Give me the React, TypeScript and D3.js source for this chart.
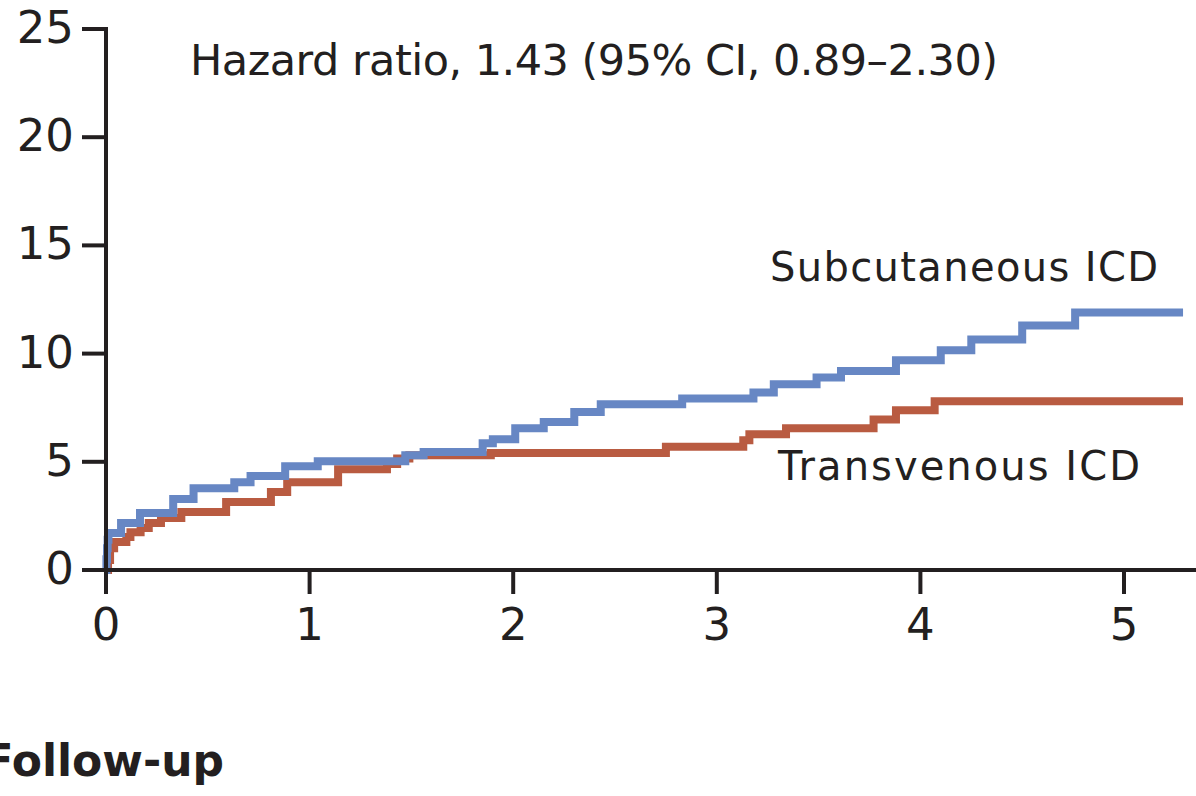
import React from "react";
import * as d3 from "d3";

// Follow-up time (years) and cumulative incidence (%) — step points
const subcutaneousTime = [0, 0.002, 0.005, 0.008, 0.012, 0.074, 0.167, 0.33, 0.43, 0.63, 0.71, 0.88, 1.04, 1.47, 1.56, 1.85, 1.9, 2.01, 2.15, 2.3, 2.43, 2.83, 3.18, 3.28, 3.49, 3.61, 3.88, 4.1, 4.25, 4.5, 4.76, 5.29];
const subcutaneousValue = [0, 0.5, 1.0, 1.4, 1.71, 2.17, 2.63, 3.28, 3.78, 4.06, 4.34, 4.8, 5.03, 5.3, 5.45, 5.86, 6.04, 6.55, 6.84, 7.3, 7.66, 7.93, 8.2, 8.58, 8.9, 9.2, 9.69, 10.15, 10.65, 11.3, 11.9, 11.9];

const transvenousTime = [0, 0.01, 0.02, 0.04, 0.1, 0.12, 0.17, 0.21, 0.27, 0.37, 0.59, 0.81, 0.89, 1.14, 1.38, 1.43, 1.49, 1.89, 2.75, 3.13, 3.16, 3.34, 3.77, 3.88, 4.07, 5.29];
const transvenousValue = [0, 0.46, 1.0, 1.29, 1.52, 1.75, 1.94, 2.17, 2.4, 2.68, 3.14, 3.6, 4.06, 4.66, 4.9, 5.15, 5.3, 5.41, 5.7, 6.0, 6.27, 6.55, 6.96, 7.38, 7.8, 7.8];

const xTickValues = [0, 1, 2, 3, 4, 5];
const yTickValues = [0, 5, 10, 15, 20, 25];

const seriesLabels = ["Subcutaneous ICD", "Transvenous ICD"];
const hazardText = "Hazard ratio, 1.43 (95% CI, 0.89\u20132.30)";
const axisTitle = "Follow-up";

const BLUE = "#6787C4";
const RED = "#B95B41";
const INK = "#231F20";
const FONT = "'DejaVu Sans', sans-serif";

export default function App() {
  const x = d3.scaleLinear().domain([0, 5]).range([106, 1124]);
  const y = d3.scaleLinear().domain([0, 25]).range([570, 29]);

  const line = d3
    .line<[number, number]>()
    .x((d) => x(d[0]))
    .y((d) => y(d[1]))
    .curve(d3.curveStepAfter);

  const blue = subcutaneousTime.map((t, i) => [t, subcutaneousValue[i]] as [number, number]);
  const red = transvenousTime.map((t, i) => [t, transvenousValue[i]] as [number, number]);

  return (
    <svg
      width={1196}
      height={796}
      style={{ position: "absolute", left: 0, top: 0, background: "#fff" }}
      fontFamily={FONT}
    >
      <rect x={0} y={0} width={1196} height={796} fill="#fff" />
      {/* curves */}
      <path d={line(red) || ""} fill="none" stroke={RED} strokeWidth={8} strokeLinejoin="miter" />
      <path d={line(blue) || ""} fill="none" stroke={BLUE} strokeWidth={8} strokeLinejoin="miter" />

      {/* y axis */}
      <line x1={x(0)} x2={x(0)} y1={y(25) - 2} y2={y(0) + 2} stroke={INK} strokeWidth={4} />
      {yTickValues.map((v) => (
        <g key={"y" + v}>
          <line x1={82} x2={x(0)} y1={y(v)} y2={y(v)} stroke={INK} strokeWidth={4} />
          <text x={74} y={y(v) + 14} textAnchor="end" fontSize={45} fill={INK}>
            {v}
          </text>
        </g>
      ))}

      {/* x axis */}
      <line x1={82} x2={1196} y1={y(0)} y2={y(0)} stroke={INK} strokeWidth={4} />
      {xTickValues.map((v) => (
        <g key={"x" + v}>
          <line x1={x(v)} x2={x(v)} y1={y(0)} y2={y(0) + 24} stroke={INK} strokeWidth={4} />
          <text x={x(v)} y={640} textAnchor="middle" fontSize={45} fill={INK}>
            {v}
          </text>
        </g>
      ))}

      {/* annotations */}
      <text x={190} y={75} fontSize={43} fill={INK} textLength={808} lengthAdjust="spacing">
        {hazardText}
      </text>
      <text x={770} y={281} fontSize={40} fill={INK} textLength={388} lengthAdjust="spacing">
        {seriesLabels[0]}
      </text>
      <text x={778} y={480} fontSize={40} fill={INK} textLength={362} lengthAdjust="spacing">
        {seriesLabels[1]}
      </text>
      <text x={224} y={776} fontSize={44} fontWeight="bold" textAnchor="end" fill={INK}>
        {axisTitle}
      </text>
    </svg>
  );
}
